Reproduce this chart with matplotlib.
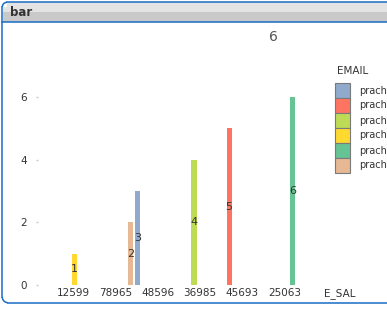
import matplotlib
matplotlib.use("Agg")
import matplotlib.pyplot as plt
import matplotlib.transforms as mtransforms
from matplotlib.patches import Rectangle, Arc

W, H = 387, 310
BLUE_FRAME = "#1a6cc4"
TEXT = "#333333"

# data
categories = ["12599", "78965", "48596", "36985", "45693", "25063"]
values = [1, 2, 3, 4, 5, 6]
bar_email = [3, 5, 0, 2, 1, 4]          # index into the email list for each bar
email_labels = ["prach", "prach", "prach", "prach", "prach", "prach"]
email_colors = ["#8FAACC", "#FF7461", "#BEDB55", "#FFD92F", "#66C394", "#E6B894"]
n_slots = len(email_labels)


def py(y):
    # pixel row (from top) -> bg axes y
    return H - y


fig = plt.figure(figsize=(W / 100, H / 100), dpi=100)

# ── background / window frame (pixel coordinates) ──
bg = fig.add_axes([0, 0, 1, 1])
bg.set_xlim(0, W)
bg.set_ylim(0, H)
bg.axis("off")

# title bar bands
bg.add_patch(Rectangle((7, py(11.5)), 390, 9.2, facecolor="#e3e3e3", edgecolor="none", zorder=2))
bg.add_patch(Rectangle((2.5, py(11.5)), 5, 4.5, facecolor="#e3e3e3", edgecolor="none", zorder=2))
bg.add_patch(Rectangle((2.5, py(21.5)), 395, 10, facecolor="#c9c9c9", edgecolor="none", zorder=2))

# frame lines with rounded corners on the left
lw = 1.1
bg.plot([7, W], [py(2.3), py(2.3)], color=BLUE_FRAME, lw=lw, zorder=3)
bg.plot([2.3, 2.3], [py(7), py(297)], color=BLUE_FRAME, lw=lw, zorder=3)
bg.plot([8, W], [py(302.7), py(302.7)], color=BLUE_FRAME, lw=lw, zorder=3)
bg.add_patch(Arc((7, py(7)), 9.4, 9.4, theta1=90, theta2=180, color=BLUE_FRAME, lw=lw, zorder=3))
bg.add_patch(Arc((8, py(297)), 11.4, 11.4, theta1=180, theta2=270, color=BLUE_FRAME, lw=lw, zorder=3))
bg.plot([2.3, W], [py(21.5), py(21.5)], color=BLUE_FRAME, lw=lw, zorder=3)
bg.text(10, py(12), "bar", ha="left", va="center", fontsize=8.5, fontweight="bold",
        color=TEXT, zorder=4)

# stray value shown at top of the chart
bg.text(273.5, py(37), "6", ha="center", va="center", fontsize=10, color="#555555")

# legend
bg.text(337, py(71), "EMAIL", ha="left", va="center", fontsize=7.5, color=TEXT)
for i, (lab, col) in enumerate(zip(email_labels, email_colors)):
    y0 = 83 + 15 * i
    bg.add_patch(Rectangle((335, py(y0 + 14.5)), 15, 14.5, facecolor=col,
                           edgecolor="#7a7a7a", linewidth=0.8, zorder=3))
    bg.text(359, py(y0 + 7.5), lab, ha="left", va="center", fontsize=7, color=TEXT)

# ── plot area ──
L, R, B, T = 38, 320, 285, 75
ax = fig.add_axes([L / W, (H - B) / H, (R - L) / W, (B - T) / H])
ax.patch.set_alpha(0)
slot_px = 7.03
x0_px = 49.9
ax.set_xlim((L - x0_px) / slot_px, (R - x0_px) / slot_px)
ax.set_ylim(0, (B - T) / 31.33)

xs = [i * n_slots + e + 0.5 for i, e in enumerate(bar_email)]
cols = [email_colors[e] for e in bar_email]
ax.bar(xs, values, width=0.74, color=cols, edgecolor="none")
for x, v in zip(xs, values):
    ax.text(x, v / 2, str(v), ha="center", va="center", fontsize=8, color=TEXT)

for s in ax.spines.values():
    s.set_visible(False)

ax.set_yticks([0, 2, 4, 6])
ax.tick_params(axis="y", length=1.5, width=1, color="#c8c8c8", pad=6.5,
               labelsize=7.5, labelcolor=TEXT)
ax.set_xticks([i * n_slots + n_slots / 2 for i in range(len(categories))])
ax.set_xticklabels(categories)
ax.tick_params(axis="x", length=0, pad=2.5, labelsize=7.5, labelcolor=TEXT)
shift = mtransforms.ScaledTranslation(2.5 / 100, 0, fig.dpi_scale_trans)
for lbl in ax.get_xticklabels():
    lbl.set_transform(lbl.get_transform() + shift)

ax.set_xlabel("E_SAL", fontsize=7.5, color=TEXT, va="center")
ax.xaxis.set_label_coords((340 - L) / (R - L), -(294 - B) / (B - T))

fig.savefig("out.png", dpi=100)
